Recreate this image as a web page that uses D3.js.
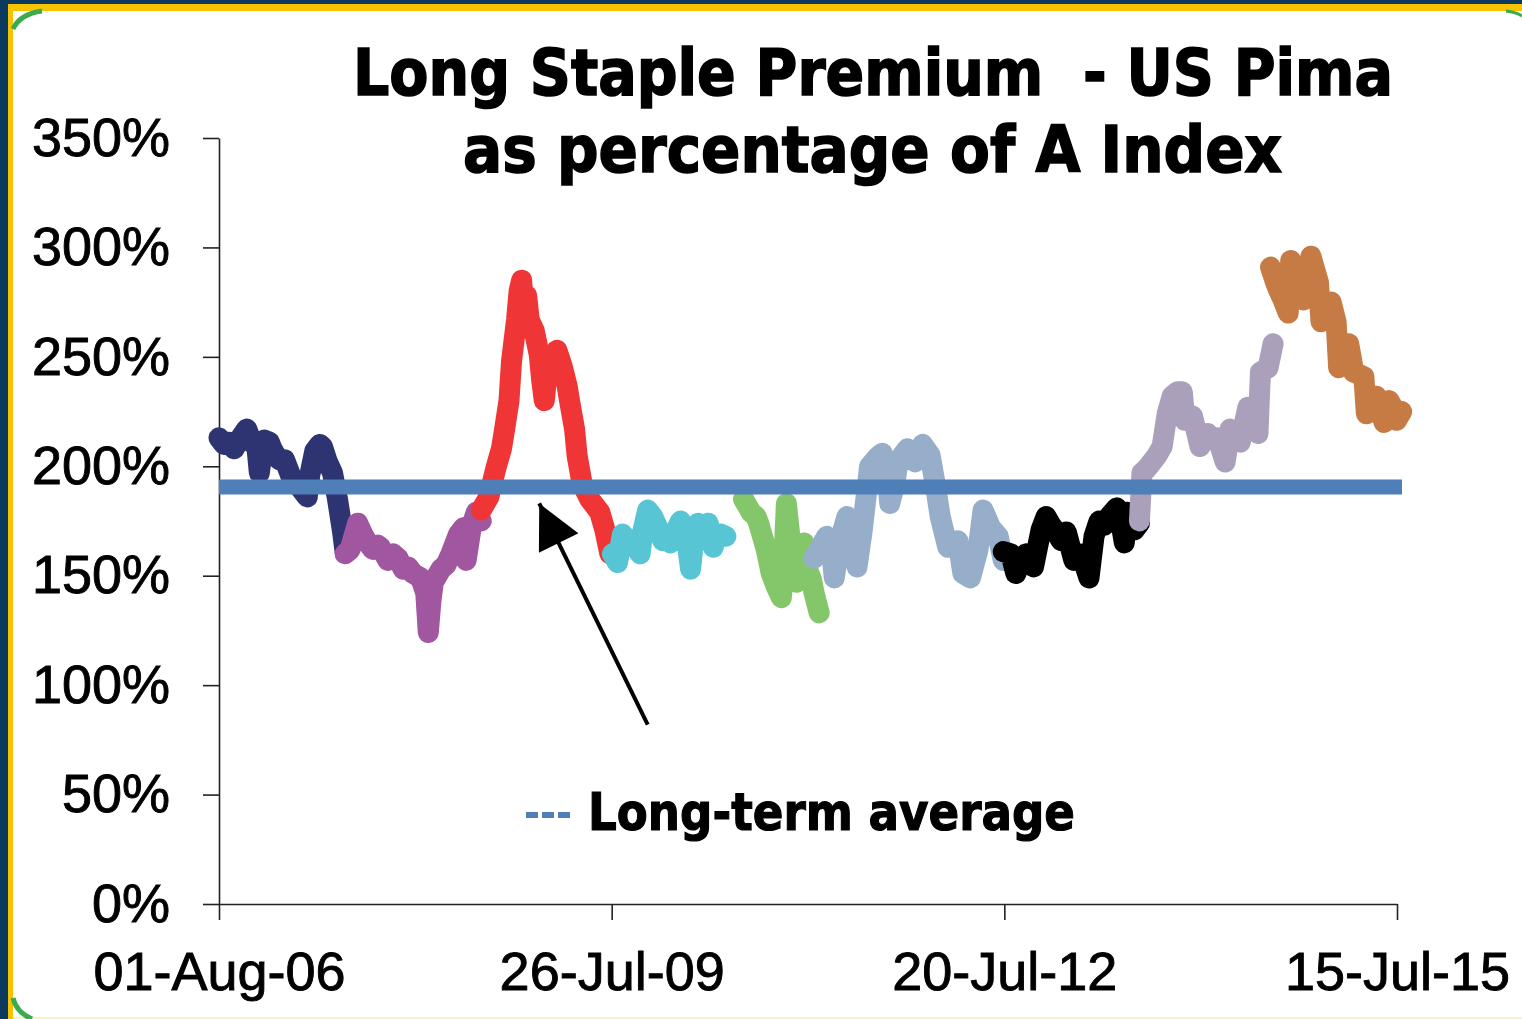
<!DOCTYPE html>
<html>
<head>
<meta charset="utf-8">
<script src="https://cdn.jsdelivr.net/npm/d3@7"></script>
<style>
  html, body { margin: 0; padding: 0; background: #0b3a5e; overflow: hidden; }
  svg { display: block; }
</style>
</head>
<body>
<svg id="chart" width="1522" height="1019"></svg>
<script>
// weekly series, [weeks since 01-Aug-06, premium %], one array per crop year
const season0607 = [[0,213],[2,210],[4,211],[6,208],[8,212],[11,217],[13,211],[15,209],[16,197],[17,206],[18,212],[20,211],[21,208],[23,204],[24,203],[26,203],[27,200],[29,194],[31,192],[33,189],[35,186],[36,196],[38,207],[40,210],[41,209],[43,202],[45,197],[47,185],[49,170],[50,161]];
const season0708 = [[50,160],[52,162],[54,170],[55,174],[57,169],[59,165],[61,162],[63,164],[64,163],[67,157],[69,160],[71,158],[73,153],[75,154],[77,151],[80,149],[82,142],[83,124],[84,138],[85,147],[88,153],[90,155],[92,160],[95,169],[97,172],[98,157],[100,172],[102,179],[104,175]];
const season0809 = [[104,180],[107,186],[110,200],[112,208],[113,215],[115,230],[116,248],[118,267],[119,280],[120,285],[121,271],[122,278],[123,267],[125,262],[127,251],[128,239],[129,230],[130,242],[132,248],[134,253],[136,246],[138,237],[139,230],[141,217],[142,205],[144,192],[147,185],[149,182],[151,179],[153,171],[155,160]];
const season0910 = [[156,160],[158,156],[160,169],[162,166],[164,165],[167,160],[168,170],[170,180],[172,177],[174,172],[176,166],[178,168],[179,165],[181,170],[183,175],[185,168],[186,162],[187,153],[188,164],[190,174],[192,171],[194,174],[196,163],[197,168],[199,169],[201,168]];
const season1011 = [[208,185],[210,181],[211,179],[213,177],[214,174],[215,170],[217,162],[219,151],[221,145],[223,140],[224,157],[225,183],[226,172],[227,162],[229,147],[231,155],[232,165],[233,154],[235,148],[236,142],[238,133]];
const season1112 = [[236,158],[238,162],[241,168],[243,160],[244,149],[246,165],[249,177],[251,165],[253,154],[255,170],[257,190],[258,200],[261,204],[263,206],[265,196],[266,183],[268,192],[269,200],[271,205],[273,208],[276,202],[279,210],[282,205],[284,192],[286,177],[289,163],[291,165],[293,166],[295,151],[298,149],[301,162],[303,180],[306,172],[309,168],[311,157]];
const season1213 = [[311,161],[314,160],[316,151],[318,157],[320,160],[323,154],[326,171],[328,177],[330,173],[332,170],[334,166],[336,170],[339,157],[341,160],[343,156],[345,149],[347,168],[349,175],[351,173],[353,177],[356,181],[358,172],[359,165],[360,179],[363,171],[365,174]];
const season1314 = [[365,175],[366,197],[368,199],[370,202],[372,205],[374,209],[376,224],[378,232],[380,234],[382,234],[383,221],[386,223],[388,214],[389,209],[392,215],[394,212],[396,213],[399,202],[401,217],[403,214],[405,211],[408,227],[410,222],[412,215],[413,243],[416,245],[418,256]];
const season1415 = [[417,291],[419,284],[420,281],[422,276],[424,270],[425,294],[427,290],[428,288],[430,276],[432,286],[433,296],[435,288],[436,284],[437,266],[439,270],[441,275],[443,266],[444,245],[446,252],[448,256],[450,243],[452,242],[454,241],[455,224],[457,229],[459,232],[462,220],[464,230],[466,226],[467,221],[469,225]];

const seriesList = [season0607, season0708, season0809, season0910, season1011, season1112, season1213, season1314, season1415];
const seriesColors = ["#2e3472", "#a157a0", "#ef3536", "#58c5d4", "#84c76b", "#97aecb", "#000000", "#aaa0bb", "#c77b44"];

const longTermAverage = 190.5;
const yTickValues = [0, 50, 100, 150, 200, 250, 300, 350];
const xTickLabels = ["01-Aug-06", "26-Jul-09", "20-Jul-12", "15-Jul-15"];
const titleLines = ["Long Staple Premium  - US Pima", "as percentage of A Index"];
const legendLabel = "Long-term average";
// arrow annotation, [week, %]
const arrowTail = [170, 82];
const arrowTip = [127, 183];

const parseDay = d3.timeParse("%d-%b-%y");
const startDate = parseDay(xTickLabels[0]);
const weekToDate = w => d3.timeDay.offset(startDate, Math.round(w * 7));

const svg = d3.select("#chart");

// frame: yellow border, white panel, green corner arcs
svg.append("rect").attr("x", 8).attr("y", 4).attr("width", 1530).attr("height", 1030).attr("fill", "#f7c200");
svg.append("rect").attr("x", 13).attr("y", 11).attr("width", 1530).attr("height", 1006).attr("fill", "#ffffff");
svg.append("rect").attr("x", 13).attr("y", 1017).attr("width", 1530).attr("height", 2).attr("fill", "#fbf3c8");
svg.append("path").attr("d", "M13,29 Q20,14 42,11").attr("fill", "none").attr("stroke", "#3aab4e").attr("stroke-width", 5);
svg.append("path").attr("d", "M13,998 Q16,1012 32,1019").attr("fill", "none").attr("stroke", "#3aab4e").attr("stroke-width", 5);
svg.append("path").attr("d", "M1506,11 Q1516,12 1522,16").attr("fill", "none").attr("stroke", "#3aab4e").attr("stroke-width", 3);

const x = d3.scaleTime()
  .domain([startDate, parseDay(xTickLabels[3])])
  .range([219, 1397]);

const y = d3.scaleLinear()
  .domain([0, 350])
  .range([904, 138]);

// axes
const leftAxis = d3.axisLeft(y)
  .tickValues(yTickValues)
  .tickSize(16)
  .tickSizeOuter(0)
  .tickPadding(33)
  .tickFormat(d => d + "%");

const bottomAxis = d3.axisBottom(x)
  .tickValues(xTickLabels.map(parseDay))
  .tickSize(16)
  .tickSizeOuter(0)
  .tickPadding(32)
  .tickFormat(d3.timeFormat("%d-%b-%y"));

const yAxis = svg.append("g").attr("transform", "translate(219,0)").call(leftAxis);
const xAxis = svg.append("g").attr("transform", "translate(0,904)").call(bottomAxis);

[yAxis, xAxis].forEach(g => {
  g.select(".domain").attr("stroke", "#222").attr("stroke-width", 1.6);
  g.selectAll(".tick line").attr("stroke", "#222").attr("stroke-width", 1.6);
  g.selectAll(".tick text")
    .attr("fill", "#000")
    .attr("stroke", "#000")
    .attr("stroke-width", 0.9)
    .style("font-family", "'Liberation Sans', Arial, sans-serif")
    .style("font-size", "54px");
});

// series lines
const line = d3.line()
  .x(d => x(weekToDate(d[0])))
  .y(d => y(d[1]));

svg.append("g")
  .attr("class", "series")
  .selectAll("path")
  .data(seriesList)
  .join("path")
  .attr("d", d => line(d))
  .style("fill", "none")
  .style("stroke", (d, i) => seriesColors[i])
  .style("stroke-width", "21px")
  .style("stroke-linejoin", "round")
  .style("stroke-linecap", "round");

// long-term average
svg.append("line")
  .attr("x1", x.range()[0])
  .attr("x2", 1402)
  .attr("y1", y(longTermAverage))
  .attr("y2", y(longTermAverage))
  .attr("stroke", "#4f7fb8")
  .attr("stroke-width", 15);

// arrow
svg.append("defs").append("marker")
  .attr("id", "head")
  .attr("viewBox", "0 0 10 10")
  .attr("refX", 10).attr("refY", 5)
  .attr("markerUnits", "userSpaceOnUse")
  .attr("markerWidth", 46).attr("markerHeight", 44)
  .attr("orient", "auto")
  .append("path")
  .attr("d", "M0,0 L10,5 L0,10 Z")
  .attr("fill", "#000");

svg.append("line")
  .attr("x1", x(weekToDate(arrowTail[0])))
  .attr("y1", y(arrowTail[1]))
  .attr("x2", x(weekToDate(arrowTip[0])))
  .attr("y2", y(arrowTip[1]))
  .attr("stroke", "#000")
  .attr("stroke-width", 4)
  .attr("marker-end", "url(#head)");

// title
const titleFont = "'DejaVu Sans', Verdana, sans-serif";
svg.append("text")
  .attr("x", 353).attr("y", 95)
  .attr("textLength", 1040).attr("lengthAdjust", "spacingAndGlyphs")
  .attr("stroke", "#000").attr("stroke-width", 1.6)
  .style("white-space", "pre")
  .style("font-family", titleFont).style("font-weight", "bold").style("font-size", "64px")
  .text(titleLines[0]);

svg.append("text")
  .attr("x", 463).attr("y", 172)
  .attr("textLength", 819).attr("lengthAdjust", "spacingAndGlyphs")
  .attr("stroke", "#000").attr("stroke-width", 1.6)
  .style("font-family", titleFont).style("font-weight", "bold").style("font-size", "64px")
  .text(titleLines[1]);

// legend
svg.append("line")
  .attr("x1", 526).attr("x2", 570)
  .attr("y1", 815).attr("y2", 815)
  .attr("stroke", "#4f7fb8")
  .attr("stroke-width", 6)
  .attr("stroke-dasharray", "12,4");

svg.append("text")
  .attr("x", 588).attr("y", 830)
  .attr("textLength", 487).attr("lengthAdjust", "spacingAndGlyphs")
  .attr("stroke", "#000").attr("stroke-width", 1.2)
  .style("font-family", titleFont).style("font-weight", "bold").style("font-size", "52px")
  .text(legendLabel);
</script>
</body>
</html>
